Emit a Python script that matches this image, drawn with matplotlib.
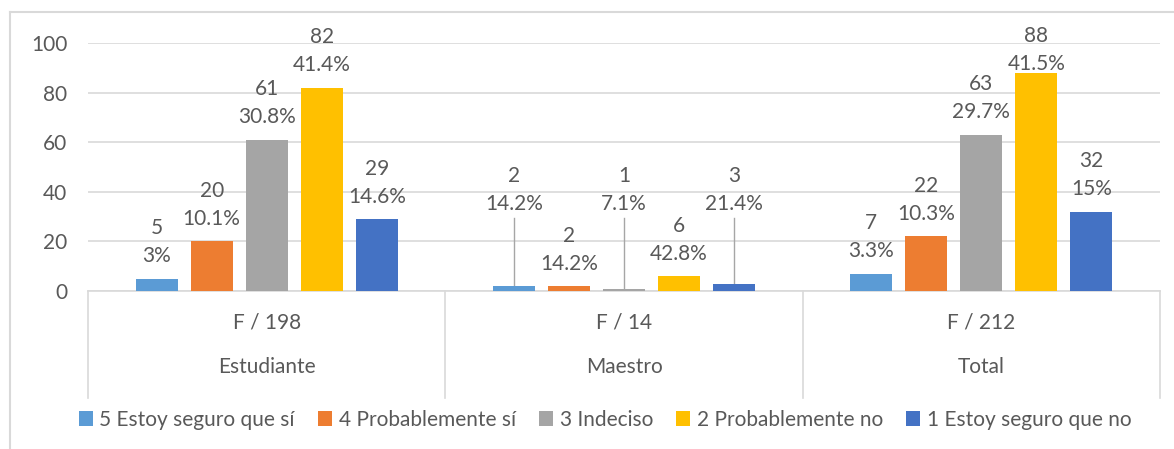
import matplotlib.pyplot as plt
import numpy as np

plt.rcParams["font.family"] = ["Lato", "DejaVu Sans"]

# categories (two-level axis)
groups = ["Estudiante", "Maestro", "Total"]
subgroups = ["F / 198", "F / 14", "F / 212"]

# series
names = ["5 Estoy seguro que sí", "4 Probablemente sí", "3 Indeciso",
         "2 Probablemente no", "1 Estoy seguro que no"]
seguro_si = [5, 2, 7]
prob_si = [20, 2, 22]
indeciso = [61, 1, 63]
prob_no = [82, 6, 88]
seguro_no = [29, 3, 32]

pct_seguro_si = ["3%", "14.2%", "3.3%"]
pct_prob_si = ["10.1%", "14.2%", "10.3%"]
pct_indeciso = ["30.8%", "7.1%", "29.7%"]
pct_prob_no = ["41.4%", "42.8%", "41.5%"]
pct_seguro_no = ["14.6%", "21.4%", "15%"]

values = [seguro_si, prob_si, indeciso, prob_no, seguro_no]
pcts = [pct_seguro_si, pct_prob_si, pct_indeciso, pct_prob_no, pct_seguro_no]

colors = ["#5B9BD5", "#ED7D31", "#A5A5A5", "#FFC000", "#4472C4"]
TEXT = "#595959"
GRID = "#D9D9D9"

# labels moved up with a leader line: (group, series) -> label height
lifted = {(1, 0): 26, (1, 2): 26, (1, 4): 26}
# labels pushed down to stay inside the chart: (group, series) -> offset in points
pushed = {(2, 3): -1}

fig = plt.figure(figsize=(11.74, 4.49), dpi=100)
W, H = 1174, 449
ax = fig.add_axes([88 / W, (H - 291) / H, (1160 - 88) / W, (291 - 43) / H])

x = np.arange(len(groups))
step = 0.154
width = 0.118
for i, (vals, pc, c, n) in enumerate(zip(values, pcts, colors, names)):
    xs = x + (i - 2) * step
    ax.bar(xs, vals, width, color=c, label=n, zorder=3)
    for g, (xx, v, p) in enumerate(zip(xs, vals, pc)):
        base = lifted.get((g, i), v)
        ax.annotate(f"{v}\n{p}", (xx, base), xytext=(0, pushed.get((g, i), 9)),
                    textcoords="offset points", ha="center", va="bottom",
                    fontsize=15, color=TEXT, linespacing=1.5, zorder=4)
        if (g, i) in lifted:
            ax.plot([xx, xx], [v, base + 3.5], color="#A6A6A6", lw=1, zorder=2)

ax.set_xlim(-0.5, 2.5)
ax.set_ylim(0, 100)
ax.set_yticks(range(0, 101, 20))
ax.tick_params(axis="y", length=0, pad=15, labelsize=15, labelcolor=TEXT)
ax.set_xticks([])
ax.yaxis.grid(True, color=GRID, lw=1.2, zorder=0)
for s in ["top", "right", "left"]:
    ax.spines[s].set_visible(False)
ax.spines["bottom"].set_color(GRID)
ax.spines["bottom"].set_linewidth(1.2)

# two-level category axis
tr = ax.get_xaxis_transform()
for b in [-0.5, 0.5, 1.5, 2.5]:
    ax.plot([b, b], [0, -0.431], transform=tr, color=GRID, lw=1.2, clip_on=False)
for xx, sg, gr in zip(x, subgroups, groups):
    ax.text(xx, -0.129, sg, transform=tr, ha="center", va="center", fontsize=15, color=TEXT)
    ax.text(xx, -0.306, gr, transform=tr, ha="center", va="center", fontsize=15, color=TEXT)

# chart frame (top and left edges visible)
fig.add_artist(plt.Line2D([10 / W, 1], [1 - 12 / H] * 2, color=GRID, lw=1.5))
fig.add_artist(plt.Line2D([10 / W] * 2, [0, 1 - 12 / H], color=GRID, lw=1.5))

leg = fig.legend(loc="center", bbox_to_anchor=(605 / W, (H - 420) / H), ncol=5,
                 frameon=False, fontsize=15, handlelength=0.7, handleheight=0.7,
                 handletextpad=0.3, columnspacing=1.1)
for t in leg.get_texts():
    t.set_color(TEXT)

fig.savefig("out.png", dpi=100)
